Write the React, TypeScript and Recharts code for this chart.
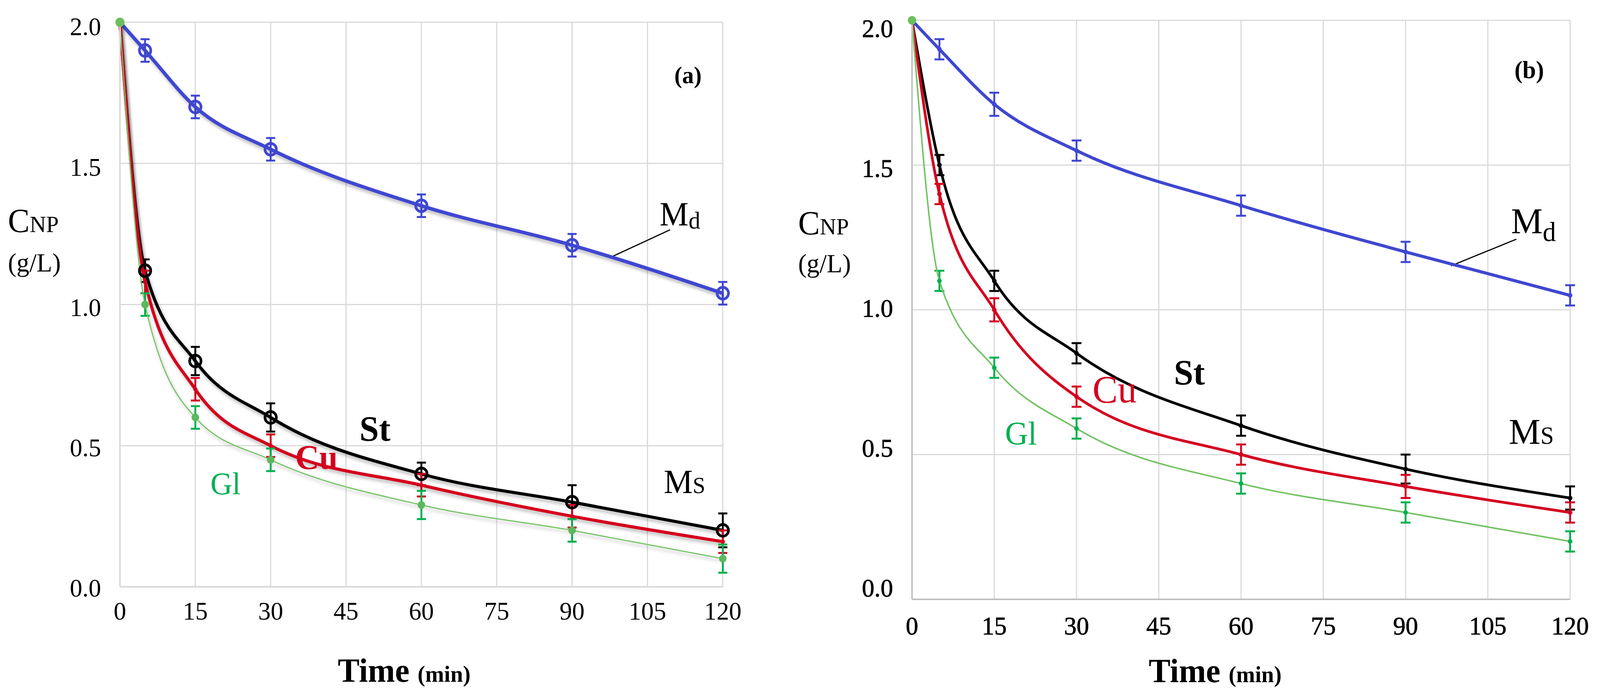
import React from 'react';
import { LineChart, Line, XAxis, YAxis, CartesianGrid, ErrorBar, ReferenceLine } from 'recharts';

// sampling times (min) and axis ticks
const TIMES = [0, 5, 15, 30, 60, 90, 120];
const X_TICKS = [0, 15, 30, 45, 60, 75, 90, 105, 120];
const Y_TICKS = [0, 0.5, 1, 1.5, 2];

// panel (a)
const mdA = [2.0, 1.9, 1.7, 1.55, 1.35, 1.21, 1.04];
const mdAErr = [null, 0.04, 0.04, 0.04, 0.04, 0.04, 0.04];
const stA = [2.0, 1.12, 0.8, 0.6, 0.4, 0.3, 0.2];
const stAErr = [null, 0.04, 0.05, 0.05, 0.04, 0.06, 0.06];
const cuA = [2.0, 1.08, 0.7, 0.5, 0.36, 0.25, 0.16];
const cuAErr = [null, 0.04, 0.04, 0.04, 0.04, 0.04, 0.04];
const glA = [2.0, 1.0, 0.6, 0.45, 0.29, 0.2, 0.1];
const glAErr = [null, 0.04, 0.04, 0.04, 0.05, 0.04, 0.05];

// panel (b)
const mdB = [2.0, 1.9, 1.71, 1.55, 1.36, 1.2, 1.05];
const mdBErr = [null, 0.035, 0.04, 0.035, 0.035, 0.035, 0.035];
const stB = [2.0, 1.5, 1.1, 0.85, 0.6, 0.45, 0.35];
const stBErr = [null, 0.035, 0.035, 0.035, 0.035, 0.05, 0.04];
const cuB = [2.0, 1.4, 1.0, 0.7, 0.5, 0.39, 0.3];
const cuBErr = [null, 0.035, 0.04, 0.035, 0.035, 0.04, 0.035];
const glB = [2.0, 1.1, 0.8, 0.59, 0.4, 0.3, 0.2];
const glBErr = [null, 0.035, 0.035, 0.035, 0.035, 0.035, 0.035];

const BLUE = '#3f47d1';
const RED = '#d4001f';
const GREEN_LINE = '#74c365';
const GREEN_BAR = '#00b04f';
const SERIF = '"Liberation Serif", "Times New Roman", serif';
const W = 4228;
const H = 1784;

const buildRows = (md: any[], mdE: any[], st: any[], stE: any[], cu: any[], cuE: any[], gl: any[], glE: any[]) =>
  TIMES.map((t, i) => ({
    t,
    md: md[i], mdErr: mdE[i],
    st: st[i], stErr: stE[i],
    cu: cu[i], cuErr: cuE[i],
    gl: gl[i], glErr: glE[i],
  }));

const rowsA = buildRows(mdA, mdAErr, stA, stAErr, cuA, cuAErr, glA, glAErr);
const rowsB = buildRows(mdB, mdBErr, stB, stBErr, cuB, cuBErr, glB, glBErr);

// dot renderer: first point (t = 0) hidden unless firstR is given
const makeDot = (r: number, fill: string, stroke: string, sw: number, firstR?: number, firstFill?: string) =>
  (props: any) => {
    const { cx, cy, index } = props;
    if (index === 0) {
      if (!firstR) return <g key={`d${index}`} />;
      return <circle key={`d${index}`} cx={cx} cy={cy} r={firstR} fill={firstFill} />;
    }
    return <circle key={`d${index}`} cx={cx} cy={cy} r={r} fill={fill} stroke={stroke} strokeWidth={sw} />;
  };

const fmt = (v: number) => v.toFixed(1);

// y tick label; labels in (b) sit a little closer together than the grid
const makeYTick = (shift: (v: number) => number, sw: number) => (p: any) => {
  const v = p.payload.value;
  return (
    <text
      x={p.x}
      y={p.y + shift(v)}
      dy="0.355em"
      textAnchor="end"
      fontFamily={SERIF}
      fontSize={66}
      fill="#000"
      stroke="#000"
      strokeWidth={sw}
    >
      {fmt(v)}
    </text>
  );
};

function Panel({ rows, left, width, margin, axisColor, lw, dots, errW, leader, yTick, xTick, filter }: any) {
  return (
    <div style={{ position: 'absolute', left, top: 0 }}>
      <LineChart width={width} height={H} data={rows} margin={margin}>
        <CartesianGrid stroke="#d9d9d9" strokeWidth={3} />
        <XAxis
          type="number"
          dataKey="t"
          domain={[0, 120]}
          ticks={X_TICKS}
          height={120}
          tickSize={0}
          tickMargin={margin.tickX}
          axisLine={{ stroke: axisColor, strokeWidth: 4 }}
          tick={xTick}
          interval={0}
        />
        <YAxis
          type="number"
          domain={[0, 2]}
          ticks={Y_TICKS}
          width={240}
          tickSize={0}
          tickMargin={50}
          axisLine={{ stroke: axisColor, strokeWidth: 4 }}
          tick={yTick}
        />
        <ReferenceLine segment={leader} stroke="#000" strokeWidth={3} />
        <Line dataKey="md" type="monotone" stroke={BLUE} strokeWidth={lw[0]} dot={dots[0]} filter={filter} isAnimationActive={false}>
          <ErrorBar dataKey="mdErr" width={errW} strokeWidth={5} stroke={BLUE} direction="y" isAnimationActive={false} />
        </Line>
        <Line dataKey="st" type="monotone" stroke="#000" strokeWidth={lw[1]} dot={dots[1]} filter={filter} isAnimationActive={false}>
          <ErrorBar dataKey="stErr" width={errW} strokeWidth={5} stroke="#000" direction="y" isAnimationActive={false} />
        </Line>
        <Line dataKey="cu" type="monotone" stroke={RED} strokeWidth={lw[2]} dot={dots[2]} filter={filter} isAnimationActive={false}>
          <ErrorBar dataKey="cuErr" width={errW} strokeWidth={5} stroke={RED} direction="y" isAnimationActive={false} />
        </Line>
        <Line dataKey="gl" type="monotone" stroke={GREEN_LINE} strokeWidth={lw[3]} dot={dots[3]} filter={filter} isAnimationActive={false}>
          <ErrorBar dataKey="glErr" width={errW} strokeWidth={5} stroke={GREEN_BAR} direction="y" isAnimationActive={false} />
        </Line>
      </LineChart>
    </div>
  );
}

export default function App() {
  // the window can be narrower than the 4228px design: stretch the drawing to fill it
  const vw = typeof window !== 'undefined' ? window.innerWidth : W;
  const vh = typeof window !== 'undefined' ? window.innerHeight : H;
  const sx = Math.min(vw / W, 1);
  const sy = Math.min(vh / H, 1);

  React.useEffect(() => {
    document.body.style.margin = '0';
    document.body.style.overflow = 'hidden';
  }, []);

  const dotsA = [
    makeDot(15, 'none', BLUE, 7),
    makeDot(15, 'none', '#000', 7),
    makeDot(5, RED, RED, 1),
    makeDot(10, '#5cb85c', 'none', 0, 12, '#6cbf5c'),
  ];
  const dotsB = [
    makeDot(6, BLUE, 'none', 0),
    makeDot(6, '#000', 'none', 0),
    makeDot(6, RED, 'none', 0),
    makeDot(6, GREEN_BAR, 'none', 0, 11, '#6cbf5c'),
  ];
  const xTickA = { fontFamily: SERIF, fontSize: 66, fill: '#000' };
  const xTickB = { fontFamily: SERIF, fontSize: 66, fill: '#000', stroke: '#000', strokeWidth: 1 };
  return (
    <div
      style={{
        position: 'absolute', left: 0, top: 0, width: W, height: H, background: '#fff', overflow: 'hidden',
        transform: `scale(${sx}, ${sy})`, transformOrigin: '0 0',
      }}
    >
      <svg width={0} height={0} style={{ position: 'absolute' }}>
        <defs>
          <filter id="shadowA" x="-10%" y="-10%" width="130%" height="130%">
            <feDropShadow dx={4} dy={7} stdDeviation={4} floodColor="#000" floodOpacity={0.28} />
          </filter>
        </defs>
      </svg>
      <Panel
        rows={rowsA}
        left={0}
        width={2050}
        margin={{ top: 57, right: 140, bottom: 162, left: 77, tickX: 37 }}
        axisColor="#d9d9d9"
        lw={[9, 8, 8, 3]}
        dots={dotsA}
        errW={12}
        leader={[{ x: 109.5, y: 1.265 }, { x: 97.5, y: 1.166 }]}
        yTick={makeYTick((v) => 10 - (2 - v) * 4, 0)}
        xTick={xTickA}
        filter="url(#shadowA)"
      />
      <Panel
        rows={rowsB}
        left={2100}
        width={2128}
        margin={{ top: 52, right: 79, bottom: 130, left: 70, tickX: 43 }}
        axisColor="#bfbfbf"
        lw={[8, 7, 7, 4]}
        dots={dotsB}
        errW={13}
        leader={[{ x: 110.2, y: 1.244 }, { x: 98.3, y: 1.152 }]}
        yTick={makeYTick((v) => 20 - (2 - v) * 25, 1)}
        xTick={xTickB}
      />
      <svg width={W} height={H} style={{ position: 'absolute', left: 0, top: 0, pointerEvents: 'none' }} fontFamily={SERIF}>
        {/* panel (a) */}
        <text x={21} y={594} fontSize={86}>C<tspan fontSize={60}>NP</tspan></text>
        <text x={21} y={695} fontSize={68}>(g/L)</text>
        <text x={1068} y={1745} fontSize={86} fontWeight="bold" textAnchor="middle">Time <tspan fontSize={60}>(min)</tspan></text>
        <text x={1818} y={213} fontSize={62} fontWeight="bold" textAnchor="middle">(a)</text>
        <text x={1743} y={577} fontSize={86}>M<tspan fontSize={62} dy={8}>d</tspan></text>
        <text x={1754} y={1262} fontSize={86}>M<tspan fontSize={60}>S</tspan></text>
        <text x={950} y={1128} fontSize={92} fontWeight="bold">St</text>
        <text x={780} y={1200} fontSize={88} fontWeight="bold" fill={RED}>Cu</text>
        <text x={556} y={1265} fontSize={80} fill={GREEN_BAR}>Gl</text>
        {/* panel (b) */}
        <text x={2109} y={600} fontSize={86}>C<tspan fontSize={60}>NP</tspan></text>
        <text x={2109} y={697} fontSize={68}>(g/L)</text>
        <text x={3211} y={1746} fontSize={86} fontWeight="bold" textAnchor="middle">Time <tspan fontSize={60}>(min)</tspan></text>
        <text x={4041} y={200} fontSize={64} fontWeight="bold" textAnchor="middle">(b)</text>
        <text x={3993} y={597} fontSize={94}>M<tspan fontSize={70} dy={20}>d</tspan></text>
        <text x={3987} y={1136} fontSize={94}>M<tspan fontSize={64}>S</tspan></text>
        <text x={3102} y={984} fontSize={92} fontWeight="bold">St</text>
        <text x={2887} y={1030} fontSize={100} fill={RED}>Cu</text>
        <text x={2656} y={1138} fontSize={84} fill={GREEN_BAR}>Gl</text>
      </svg>
    </div>
  );
}
